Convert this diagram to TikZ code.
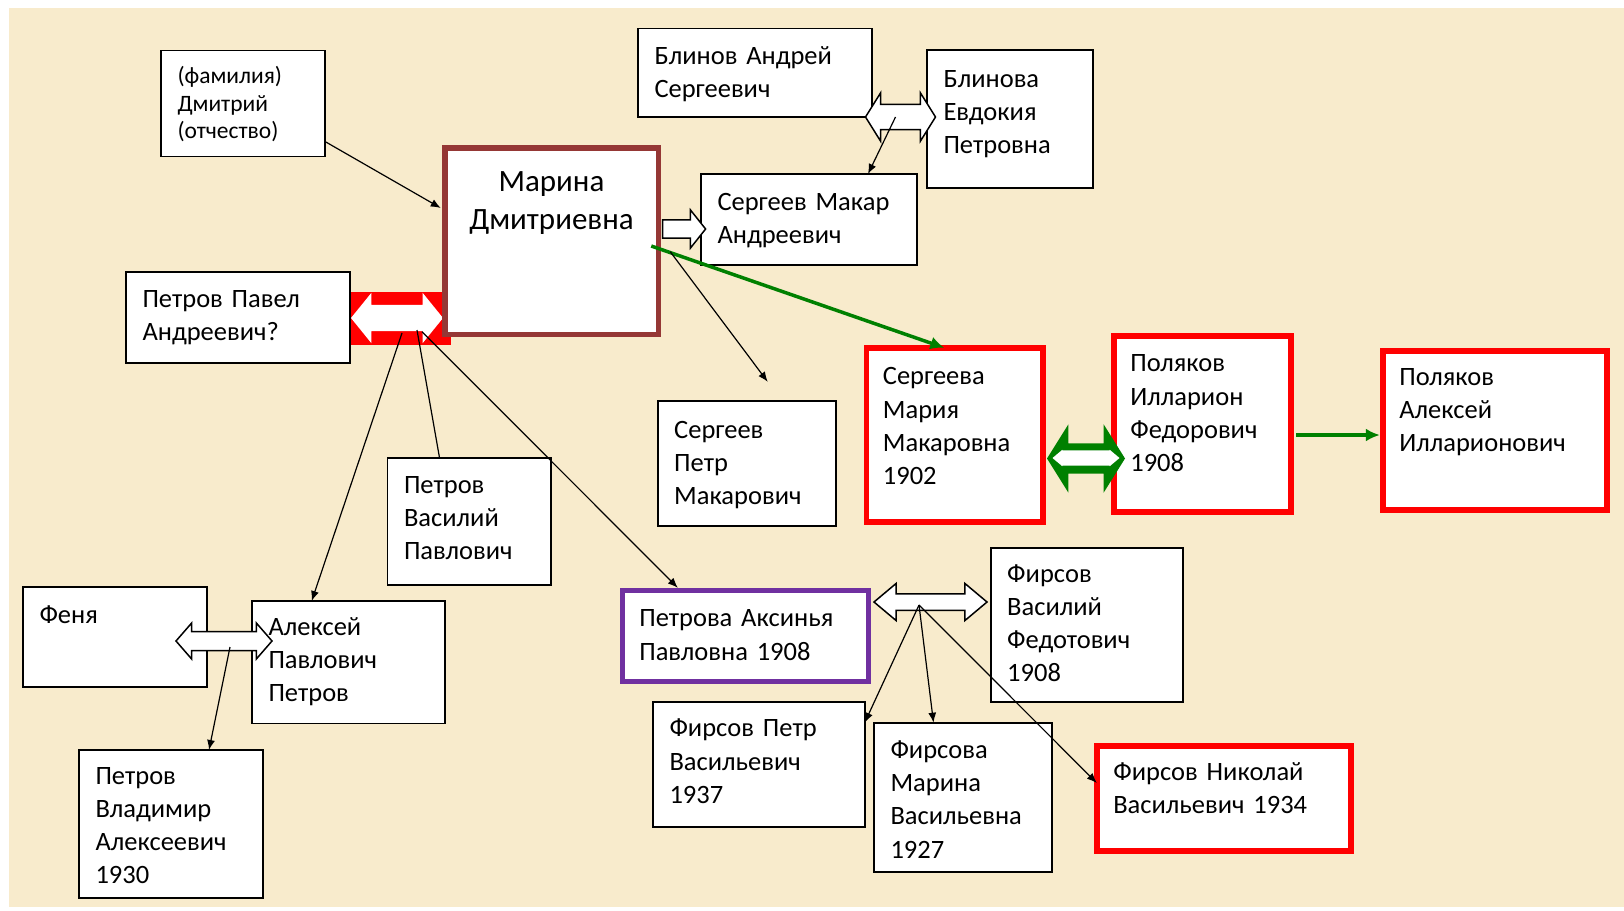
\documentclass[tikz,border=0pt]{standalone}
\usepackage{fontspec}
\setmainfont{Carlito}
\usetikzlibrary{arrows.meta,shapes.arrows}

\definecolor{parchment}{RGB}{248,235,204}
\definecolor{mbrown}{RGB}{149,55,53}
\definecolor{mpurple}{RGB}{112,48,160}
\definecolor{mgreen}{RGB}{0,128,0}

\tikzset{
  person/.code n args={3}{%
    \pgfmathsetlengthmacro\bxw{#1}%
    \pgfmathsetlengthmacro\bxh{#2}%
    \pgfmathsetlengthmacro\bxtw{#1-33}%
    \pgfmathsetlengthmacro\bxht{#3}%
    \pgfmathsetlengthmacro\bxdp{#2-#3}%
    \edef\bxkeys{minimum width=\bxw, minimum height=\bxh,
      text width=\bxtw, text height=\bxht, text depth=\bxdp}%
    \expandafter\pgfkeysalso\expandafter{\bxkeys}},
  box/.style={draw, fill=white, line width=1.6pt, anchor=north west,
    inner xsep=16.5pt, inner ysep=0pt, outer sep=0pt, align=left,
    font=\fontsize{26.5}{33.3}\selectfont},
  redbox/.style={box, draw=red, line width=5.5pt},
  block/.style={draw, fill=white, line width=1.5pt, inner sep=0pt},
  link/.style={line width=1.2pt, -{Latex[length=10pt,width=8pt]}},
  glink/.style={mgreen, line width=3.5pt, -{Latex[length=14pt,width=13pt]}}
}

\begin{document}
\begin{tikzpicture}[x=1pt, y=-1pt]
        \useasboundingbox (0,0) rectangle (1624,910);
        \fill[parchment] (9,8) rectangle (1624,907);

        \fill[red] (350,292) rectangle (451,345);
        \node[double arrow, fill=white, inner sep=0pt, inner ysep=13pt, minimum height=92pt,
              double arrow head extend=12pt, double arrow tip angle=102] (parr) at (397,318) {};

        \node[box, person={164}{106}{33}, font=\fontsize{23.5}{27.5}\selectfont] (famil) at (161,50.5) {(фамилия)\\Дмитрий\\(отчество)};
        \node[box, person={234}{88.5}{35.5}] (blinov) at (638,28.5) {Блинов~Андрей\\Сергеевич};
        \node[box, person={166}{138}{37}] (blinova) at (927,50) {Блинова\\Евдокия\\Петровна};
        \node[box, draw=mbrown, line width=5.5pt, person={213.5}{186.5}{44}, align=center,
              font=\fontsize{31}{37.3}\selectfont] (marina) at (444.75,147.75) {Марина\\Дмитриевна};
        \node[box, person={216}{91}{36.5}] (makar) at (701,174) {Сергеев~Макар\\Андреевич};
        \node[box, person={224}{91}{35}] (pavel) at (126,272) {Петров~Павел\\Андреевич?};
        \node[box, person={178}{125}{37.5}] (petr) at (657.7,400.8) {Сергеев\\Петр\\Макарович};
        \node[redbox, person={176.4}{174.4}{37}] (maria) at (866.4,347.8) {Сергеева\\Мария\\Макаровна\\1902};
        \node[redbox, person={177.4}{176.4}{36}] (illarion) at (1113.8,335.8) {Поляков\\Илларион\\Федорович\\1908};
        \node[redbox, person={224.4}{159.4}{34.5}] (alexei) at (1382.8,350.8) {Поляков\\Алексей\\Илларионович};
        \node[box, person={163.5}{127.3}{35.5}] (vasily) at (387.5,457.7) {Петров\\Василий\\Павлович};
        \node[box, person={184}{100}{36}] (fenya) at (23,587) {Феня};
        \node[box, person={193}{122.6}{34}] (aleksp) at (252,601) {Алексей\\Павлович\\Петров};
        \node[box, person={184}{148}{34}] (vladimir) at (79,750) {Петров\\Владимир\\Алексеевич\\1930};
        \node[box, draw=mpurple, line width=5pt, person={246}{90.4}{36}] (aksinya) at (622.8,590.8) {Петрова~Аксинья\\Павловна~1908};
        \node[box, person={192.3}{153.7}{34}] (firsovv) at (990.7,548) {Фирсов\\Василий\\Федотович\\1908};
        \node[box, person={211.7}{125}{35}] (firsovp) at (653,701.7) {Фирсов~Петр\\Васильевич\\1937};
        \node[box, person={178}{149.3}{35.5}] (firsovam) at (874,722.7) {Фирсова\\Марина\\Васильевна\\1927};
        \node[redbox, person={254.4}{105.4}{34.5}] (nikolai) at (1096.8,745.8) {Фирсов~Николай\\Васильевич~1934};

        \node[single arrow, block, inner ysep=8.3pt, minimum height=43pt,
              single arrow head extend=10pt, single arrow tip angle=103] (marr) at (680.5,229) {};
        \node[double arrow, block, inner ysep=11.8pt, minimum height=70pt,
              double arrow head extend=11.5pt, double arrow tip angle=116] (barr) at (900.5,117) {};
        \node[double arrow, fill=mgreen, inner sep=0pt, inner ysep=15pt, minimum height=78pt,
              double arrow head extend=19pt, double arrow tip angle=116] (garr) at (1086,458.5) {};
        \node[double arrow, fill=white, inner sep=0pt, inner ysep=7.5pt, minimum height=67pt,
              double arrow head extend=0.5pt, double arrow tip angle=80] (garrin) at (1086,458) {};
        \node[double arrow, block, inner ysep=8.75pt, minimum height=96pt,
              double arrow head extend=8.5pt, double arrow tip angle=98] (farr) at (224,641) {};
        \node[double arrow, block, inner ysep=7.5pt, minimum height=113pt,
              double arrow head extend=10.25pt, double arrow tip angle=80] (aarr) at (930.5,602) {};

        \draw[link] ([yshift=-38pt]famil.east) -- ([xshift=-4pt,yshift=33pt]marina.west);
        \draw[link] ([xshift=-5pt]barr.center) -- ([xshift=167pt]makar.north west);
        \draw[glink] ([xshift=-7pt,yshift=-5pt]marina.east) -- ([xshift=78pt]maria.north west);
        \draw[link] ([xshift=12pt,yshift=-10.7pt]marina.east) -- ([xshift=110pt,yshift=19pt]petr.north west);
        \draw[glink] ([xshift=5pt,yshift=-11pt]illarion.east) -- ([xshift=-3pt,yshift=-4.5pt]alexei.west);

        \draw[link] ([xshift=5pt,yshift=-15pt]parr.center) -- ([xshift=59.7pt]aleksp.north west);
        \draw[line width=1.2pt] ([xshift=20pt,yshift=-12pt]parr.center) -- ([xshift=52pt]vasily.north west);
        \draw[link] ([xshift=25pt,yshift=-13.7pt]parr.center) -- ([xshift=55pt,yshift=3pt]aksinya.north west);
        \draw[link] ([xshift=6pt,yshift=-6pt]farr.center) -- ([xshift=130pt]vladimir.north west);

        \draw[link] ([xshift=-11.5pt,yshift=-3pt]aarr.center) -- ([yshift=-21pt]firsovp.north east);
        \draw[link] ([xshift=-11.5pt,yshift=-3pt]aarr.center) -- ([xshift=59.5pt]firsovam.north west);
        \draw[link] ([xshift=-11.5pt,yshift=-3pt]aarr.center) -- ([yshift=15.5pt]nikolai.west);
    \end{tikzpicture}
\end{document}
